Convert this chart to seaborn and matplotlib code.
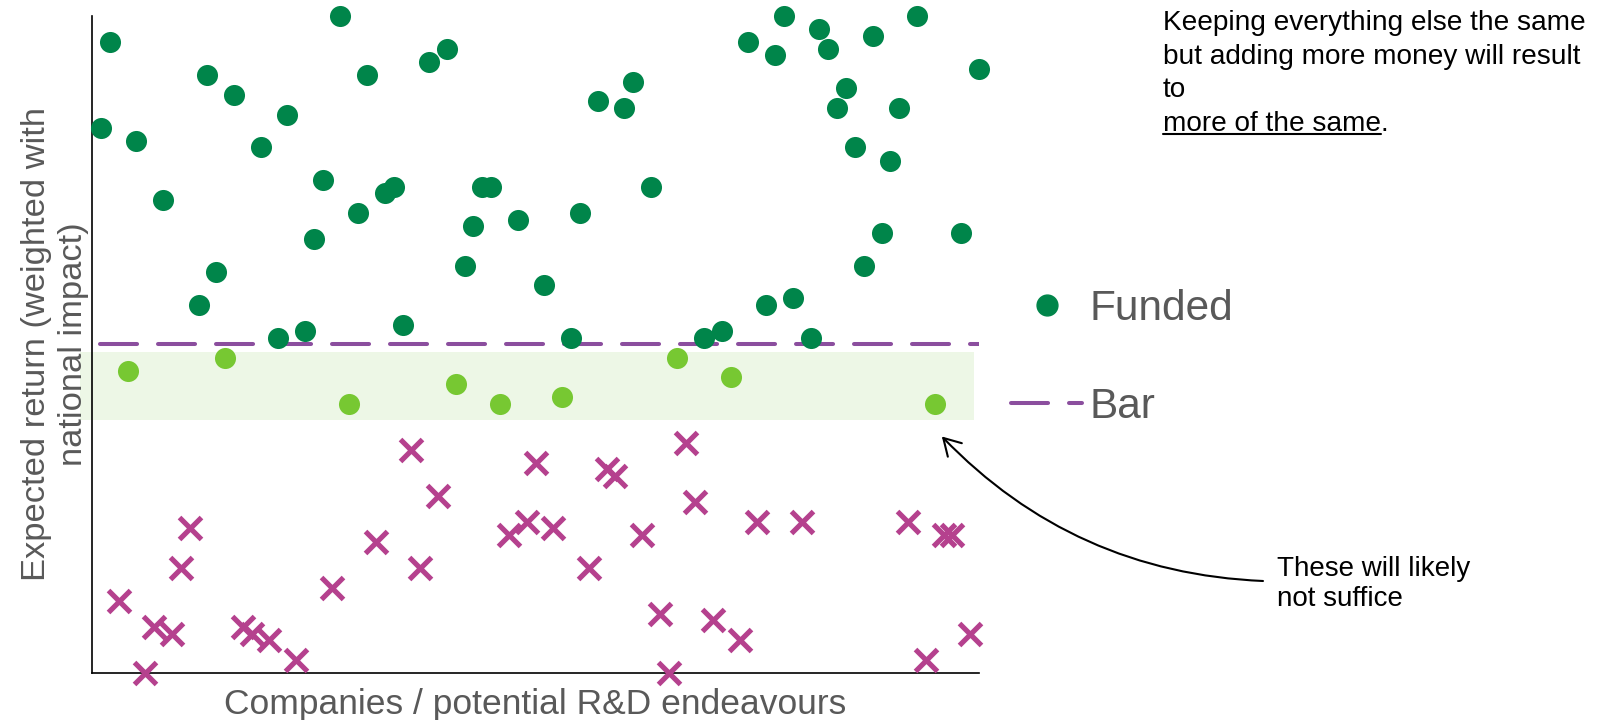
import numpy as np
import pandas as pd
import matplotlib.pyplot as plt
import seaborn as sns
from matplotlib.lines import Line2D

# Data: one expected return per company (index 1..100)
companies = list(range(1, 101))
expected_return = [83, 96, 11, 46, 81, 0, 7, 72, 6, 16,
                   22, 56, 91, 61, 48, 88, 7, 6, 80, 5,
                   51, 85, 2, 52, 66, 75, 13, 100, 41, 70,
                   91, 20, 73, 74, 53, 34, 16, 93, 27, 95,
                   44, 62, 68, 74, 74, 41, 21, 69, 23, 32,
                   59, 22, 42, 51, 70, 16, 87, 31, 30, 86,
                   90, 21, 74, 9, 0, 48, 35, 26, 51, 8,
                   52, 45, 5, 96, 23, 56, 94, 100, 57, 23,
                   51, 98, 95, 86, 89, 80, 62, 97, 67, 78,
                   86, 23, 100, 2, 41, 21, 21, 67, 6, 92]
bar_level = 50
band_low, band_high = 38.5, 48.8

df = pd.DataFrame({'company': companies, 'expected_return': expected_return})
df['status'] = np.where(df['expected_return'] > bar_level, 'Funded',
                        np.where(df['expected_return'] >= band_low, 'Close', 'Not funded'))

dark_green = '#00854A'
light_green = '#77C832'
cross_col = '#B5418E'
bar_col = '#8B4E9E'
grey = '#595959'

sns.set_theme(style='white')
plt.rcParams['font.family'] = ['Liberation Sans', 'DejaVu Sans']

fig = plt.figure(figsize=(16.04, 7.2), dpi=100)
ax = fig.add_axes([0.0574, 0.0653, 0.553, 0.9125])

# "almost made it" band and the funding bar
ax.fill_between([-1.4, 99.4], band_low, band_high, color='#EDF7E6', lw=0,
                clip_on=False, zorder=0)
ax.axhline(bar_level, xmin=0.009, xmax=1, color=bar_col, lw=2.9,
           dashes=(9.2, 5.2), dash_capstyle='round', zorder=2)

common = dict(x='company', y='expected_return', legend=False, ax=ax,
              clip_on=False, zorder=3)
sns.scatterplot(data=df[df['status'] == 'Funded'], color=dark_green, s=230,
                linewidth=0, **common)
sns.scatterplot(data=df[df['status'] == 'Close'], color=light_green, s=230,
                linewidth=0, **common)
sns.scatterplot(data=df[df['status'] == 'Not funded'], color=cross_col,
                marker='x', s=250, linewidth=3.7, **common)

ax.set_xlim(0, 100)
ax.set_ylim(0, 100)
ax.set_xticks([])
ax.set_yticks([])
sns.despine(ax=ax)
for side in ['left', 'bottom']:
    ax.spines[side].set_color('black')
    ax.spines[side].set_linewidth(1.2)

ax.set_xlabel('Companies / potential R&D endeavours', fontsize=25.5,
              color=grey, labelpad=11)
ax.set_ylabel('Expected return (weighted with\nnational impact)', fontsize=24.8,
              color=grey, labelpad=2.5, linespacing=1.25)

# legend
handles = [Line2D([], [], marker='o', ls='', color=dark_green, markersize=15),
           Line2D([], [], color=bar_col, lw=2.9, dashes=(9.2, 5.2),
                  dash_capstyle='round')]
fig.legend(handles, ['Funded', 'Bar'], loc='center left',
           bbox_to_anchor=(1011 / 1604, 362 / 720), frameon=False,
           fontsize=30.5, labelcolor=grey, handlelength=1.68,
           handletextpad=0.17, labelspacing=1.38, borderpad=0, borderaxespad=0)

# notes
note = fig.text(1163 / 1604, 1 - 10.5 / 720,
                'Keeping everything else the same\n'
                'but adding more money will result\n'
                'to\n'
                'more of the same.',
                fontsize=20.2, color='black', ha='left', va='top',
                linespacing=1.37)
fig.canvas.draw()
renderer = fig.canvas.get_renderer()
tmp = fig.text(0, 0, 'more of the same', fontsize=20.2)
under_w = tmp.get_window_extent(renderer).width
tmp.remove()
bb = note.get_window_extent(renderer)
uy = bb.y0 + 3
fig.add_artist(Line2D([bb.x0 / 1604, (bb.x0 + under_w) / 1604],
                      [uy / 720, uy / 720], color='black', lw=1.5,
                      transform=fig.transFigure))

fig.text(1277 / 1604, 136.5 / 720, 'These will likely\nnot suffice',
         fontsize=20, color='black', ha='left', va='center', linespacing=1.2)
ax.annotate('', xy=(95.8, 36), xycoords='data',
            xytext=(1263 / 1604, 139 / 720), textcoords='figure fraction',
            arrowprops=dict(arrowstyle='->,head_length=0.6,head_width=0.35',
                            connectionstyle='arc3,rad=-0.2', color='black',
                            lw=1.5, shrinkA=0, shrinkB=0, mutation_scale=20))

fig.savefig('out.png', dpi=100)
